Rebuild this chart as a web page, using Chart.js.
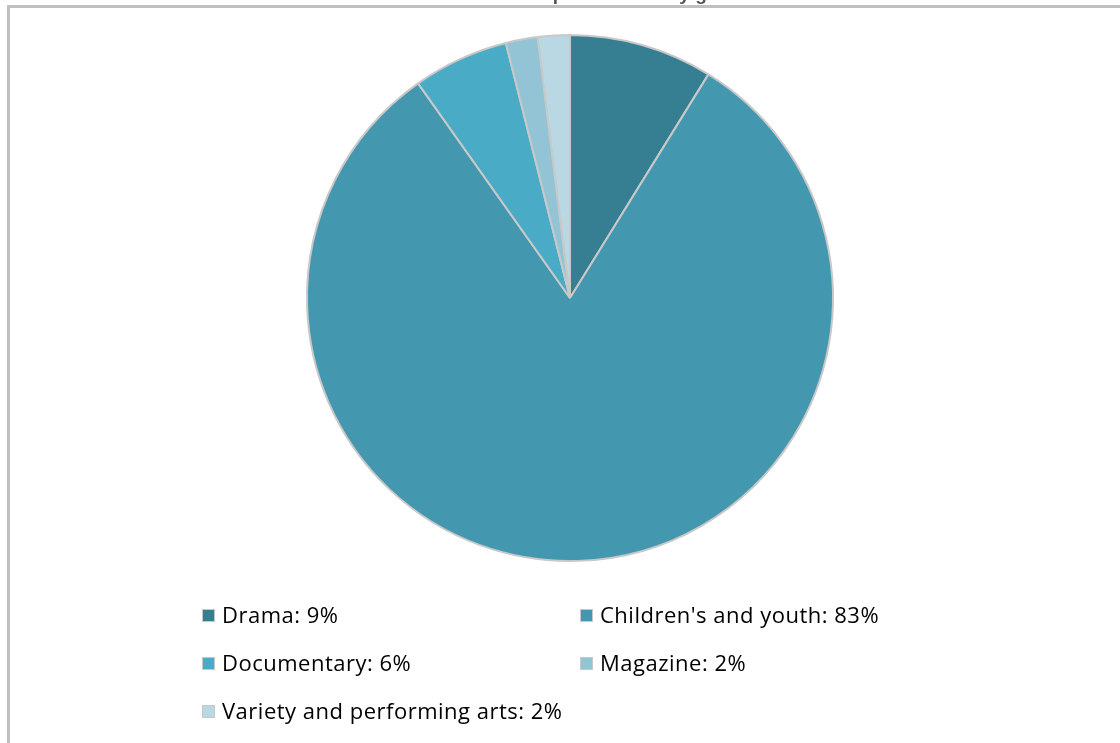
<!DOCTYPE html>
<html>
<head>
<meta charset="utf-8">
<title>Co-productions by genre</title>
<script src="https://cdn.jsdelivr.net/npm/chart.js@4/dist/chart.umd.min.js"></script>
<style>
  html, body { margin: 0; padding: 0; background: #fff; overflow: hidden; }
  #wrap { position: relative; width: 1120px; height: 743px; }
</style>
</head>
<body>
<div id="wrap"><canvas id="genreChart" width="1120" height="743"></canvas></div>
<script>
// Genres and their share of hours (%)
const genres = ['Drama', "Children's and youth", 'Documentary', 'Magazine', 'Variety and performing arts'];
const shares = [9, 83, 6, 2, 2];
const chartTitle = 'Distribution of co-productions by genre';

const sliceColors = ['#367f93', '#4398b0', '#4aabc6', '#93c4d6', '#b9d8e4'];
const legendFont = '22px "Open Sans", "Noto Sans", sans-serif';

// frame, cut-off title and two-column legend drawn straight on the canvas
const decorations = {
    id: 'decorations',
    beforeDraw(chart) {
        const ctx = chart.ctx;
        ctx.save();
        ctx.fillStyle = '#c0c0c0';
        ctx.fillRect(7, 5, chart.width - 7, 3);
        ctx.fillRect(7, 5, 3, chart.height - 5);
        ctx.fillStyle = '#555';
        ctx.font = 'bold 19px "Liberation Sans", sans-serif';
        ctx.textAlign = 'center';
        ctx.textBaseline = 'alphabetic';
        ctx.fillText(chartTitle, 568, 0);
        ctx.restore();
    },
    afterDraw(chart) {
        const ctx = chart.ctx;
        const cols = [202, 580];
        const rows = [616, 664, 712];
        ctx.save();
        ctx.font = legendFont;
        ctx.letterSpacing = '0.5px';
        ctx.textBaseline = 'middle';
        genres.forEach((g, i) => {
            const x = cols[i % 2];
            const y = rows[Math.floor(i / 2)];
            ctx.fillStyle = sliceColors[i];
            ctx.fillRect(x, y - 7, 13, 13);
            ctx.strokeStyle = '#c8c8c8';
            ctx.lineWidth = 1;
            ctx.strokeRect(x + 0.5, y - 6.5, 12, 12);
            ctx.fillStyle = '#000';
            ctx.fillText(g + ': ' + shares[i] + '%', x + 20, y + 1);
        });
        ctx.restore();
    }
};

new Chart(document.getElementById('genreChart'), {
    type: 'pie',
    data: {
        labels: genres,
        datasets: [{
            data: shares,
            backgroundColor: sliceColors,
            borderColor: '#c8c8c8',
            borderWidth: 2
        }]
    },
    options: {
        responsive: false,
        animation: false,
        layout: { padding: { top: 34, bottom: 181, left: 20, right: 0 } },
        plugins: {
            legend: { display: false },
            title: { display: false },
            tooltip: { enabled: false }
        }
    },
    plugins: [decorations]
});
</script>
</body>
</html>
